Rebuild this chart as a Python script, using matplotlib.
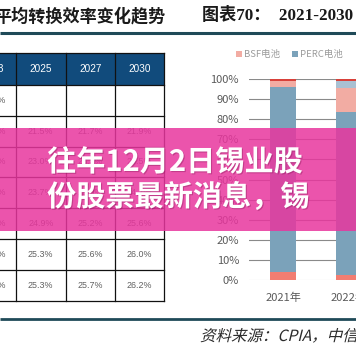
import matplotlib
matplotlib.use("Agg")
import numpy as np
import matplotlib.pyplot as plt
from matplotlib.patches import Rectangle, PathPatch
from matplotlib.textpath import TextPath
from matplotlib.font_manager import FontProperties
from matplotlib.transforms import Affine2D
import matplotlib.patheffects as pe

plt.rcParams['font.family'] = ['Noto Sans CJK SC', 'DejaVu Sans']

# left panel: efficiency table
table_years = ["2023", "2025", "2027", "2030"]
table_rows = [
    ["19.5%", "", "", ""],
    ["21.3%", "21.5%", "21.7%", "21.9%"],
    ["22.8%", "23.0%", "23.3%", "23.5%"],
    ["23.5%", "23.7%", "23.9%", "24.1%"],
    ["24.6%", "24.9%", "25.2%", "25.6%"],
    ["24.8%", "25.3%", "25.6%", "26.0%"],
    ["24.8%", "25.3%", "25.7%", "26.2%"],
]

# right panel: market share by cell type (%), stacked bottom -> top
bar_years = ["2021年", "2022年"]
share_bottom = [4.0, 2.5]
share_perc = [92.0, 81.0]
share_bsf = [3.0, 12.0]
share_light = [0.0, 3.5]
share_top = [1.0, 1.0]
series = [
    ("其他", share_bottom, '#f27d71'),
    ("PERC电池", share_perc, '#7ba2ba'),
    ("BSF电池", share_bsf, '#f2aca3'),
    ("N型电池", share_light, '#a9c0d2'),
    ("HJT电池", share_top, '#d8413a'),
]
legend_names = ["BSF电池", "PERC电池"]

title_left = "平均转换效率变化趋势"
title_right = "图表70：  2021-2030"
source = "资料来源：CPIA，中信"
banner = ["往年12月2日锡业股", "份股票最新消息，锡"]

W = 356
fig = plt.figure(figsize=(W / 100, W / 100), dpi=100)
bg = fig.add_axes([0, 0, 1, 1])
bg.set_xlim(0, W)
bg.set_ylim(W, 0)
bg.axis('off')

# header
bg.text(-6, 16, title_left, fontsize=12.3, fontweight='bold', color='#1a1a1a',
        va='center', ha='left')
bg.text(202, 16, title_right, family=['Liberation Serif', 'Noto Sans CJK SC'],
        fontsize=12.3, fontweight='bold', color='#1a1a1a', va='center', ha='left')
bg.plot([0, W], [33, 33], color='#1f4a58', lw=2.2, solid_capstyle='butt')

# table
col_edges = [-40, 16, 65.5, 115, 164]
head_top, head_h, row_h = 53, 32, 30.8
n_rows = len(table_rows)
row_edges = [head_top] + [head_top + head_h + i * row_h for i in range(n_rows + 1)]
bg.add_patch(Rectangle((col_edges[0], head_top), col_edges[-1] - col_edges[0], head_h,
                       fc='#114b7c', lw=0))
for x in col_edges[1:]:
    bg.plot([x, x], [row_edges[0], row_edges[-1]], color='#111111', lw=0.9)
for y in row_edges:
    bg.plot([col_edges[0], col_edges[-1]], [y, y], color='#111111', lw=0.9)
for j, yr in enumerate(table_years):
    cx = (col_edges[j] + col_edges[j + 1]) / 2 if j else -7
    bg.text(cx, head_top + head_h / 2, yr, family='Liberation Sans', fontsize=7.2,
            color='white', ha='center', va='center')
    for i, row in enumerate(table_rows):
        cy = (row_edges[i + 1] + row_edges[i + 2]) / 2
        bg.text(cx, cy, row[j], family='Liberation Sans', fontsize=6.4,
                color='#606060', ha='center', va='center')

# bottom rule + italic source
bg.plot([0, W], [319, 319], color='#1f4a58', lw=2.0, solid_capstyle='butt')
tp = TextPath((0, 0), source, size=15.5, prop=FontProperties(family='Noto Sans CJK SC'))
tr = Affine2D().skew_deg(14, 0).scale(1, -1).translate(200, 341) + bg.transData
bg.add_patch(PathPatch(tp, transform=tr, fc='#2b2b2b', lw=0))

# stacked bar chart
y0, y100, xl = 280, 79, 249
ax = fig.add_axes([xl / W, (W - y0) / W, (W - xl) / W, (y0 - y100) / W])
ax.set_facecolor('none')
x = np.arange(len(bar_years))
bottom = np.zeros(len(bar_years))
handles = {}
for name, vals, color in series:
    handles[name] = ax.bar(x, vals, 0.394, bottom=bottom, color=color, lw=0, zorder=2)
    bottom += np.array(vals)
ax.set_xlim(-0.515, 1.106)
ax.set_ylim(0, 100)
ax.set_yticks(range(0, 101, 10))
ax.set_yticklabels([f"{v}%" for v in range(0, 101, 10)])
ax.set_xticks(x)
ax.set_xticklabels(bar_years)
ax.yaxis.grid(True, color='#8a8a8a', lw=0.8)
ax.get_ygridlines()[0].set_color('#cfcfcf')
ax.set_axisbelow(True)
ax.tick_params(length=0, labelsize=8, labelcolor='#5a5a5a')
ax.tick_params(axis='y', pad=7.2)
ax.tick_params(axis='x', pad=9)
for s in ax.spines.values():
    s.set_visible(False)

fig.legend([handles[n] for n in legend_names], legend_names, loc='center left',
           bbox_to_anchor=(236 / W, 1 - 55 / W), ncol=2, frameon=False,
           fontsize=6.8, labelcolor='#9a9a9a', handlelength=0.6, handleheight=0.6,
           handletextpad=0.2, columnspacing=1.3, borderpad=0, borderaxespad=0)

# pink banner overlay
top = fig.add_axes([0, 0, 1, 1], zorder=5)
top.set_xlim(0, W)
top.set_ylim(W, 0)
top.axis('off')
top.add_patch(Rectangle((0, 128), W, 103, fc='#e8369e', alpha=0.85, lw=0))
for k, line in enumerate(banner):
    top.text(47, 162 + 35 * k, line, fontsize=21, fontweight='bold', color='white',
             ha='left', va='center',
             path_effects=[pe.withSimplePatchShadow(offset=(0.8, -0.8),
                                                    shadow_rgbFace='#8a1a5a', alpha=0.4)])

fig.savefig("out.png", dpi=100)
